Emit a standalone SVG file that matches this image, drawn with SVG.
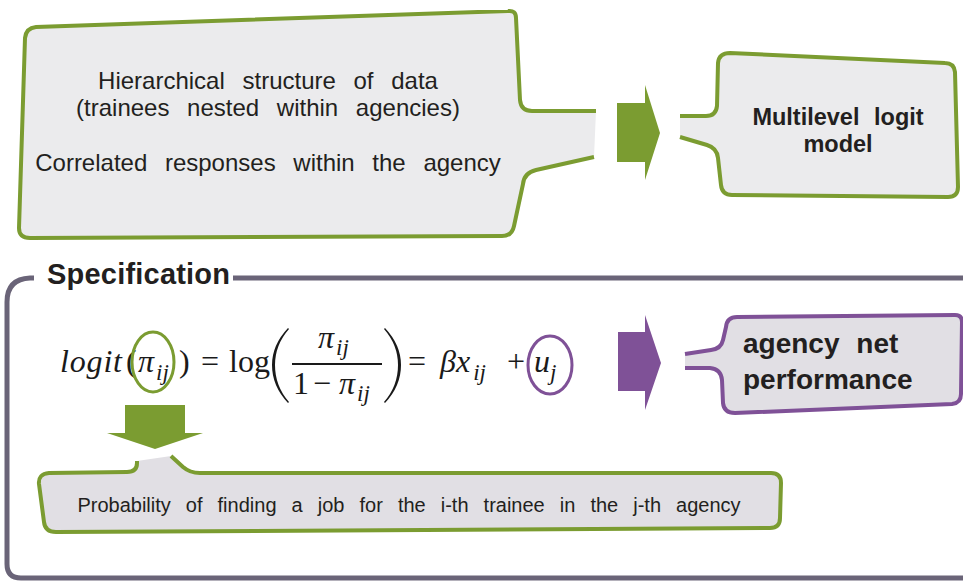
<svg xmlns="http://www.w3.org/2000/svg" width="963" height="583" viewBox="0 0 963 583">
  <defs>
    <style>
      .sans { font-family: "Liberation Sans", Arial, sans-serif; fill: #231f20; }
      .body { font-size: 24px; word-spacing: 11px; }
      .bold { font-weight: bold; }
      .math { font-family: "Liberation Serif", "DejaVu Serif", serif; font-size: 32px; fill: #1a1a1a; }
      .it { font-style: italic; }
      .sub { font-size: 23px; font-style: italic; }
      .green-line { fill: none; stroke: #7b9c31; stroke-width: 4; stroke-linejoin: round; stroke-linecap: butt; }
      .purple-line { fill: none; stroke: #7f5197; stroke-width: 4; stroke-linejoin: round; }
      .green-fill { fill: #7b9c31; }
      .purple-fill { fill: #7f5197; }
      .light { fill: #ebebed; }
      .light2 { fill: #e1dfe4; }
      .frame { fill: none; stroke: #6a6478; stroke-width: 5; }
    </style>
  </defs>

  <!-- Specification frame -->
  <g id="spec-frame">
    <path class="frame" d="M 34,278 L 30,278 Q 7,279 7,302 L 7,564 Q 7,578 21,578 L 963,578"/>
    <path class="frame" d="M 233,278 L 963,278"/>
    <text class="sans bold" x="47" y="284" font-size="29" textLength="183">Specification</text>
  </g>

  <!-- Data structure callout -->
  <g id="data-callout">
    <path class="light" d="M 594,157 L 536,170 Q 524,173 523,184 L 514,226 Q 512,236 502,236 L 30,238 Q 19,238 19,228 L 25,38 Q 26,28 36,27 L 508,11 Q 516,10 516,18 L 520,100 Q 521,111 532,111 L 596,111 Z"/>
    <path class="green-line" d="M 594,157 L 536,170 Q 524,173 523,184 L 514,226 Q 512,236 502,236 L 30,238 Q 19,238 19,228 L 25,38 Q 26,28 36,27 L 508,11 Q 516,10 516,18 L 520,100 Q 521,111 532,111 L 596,111"/>
    <text class="sans body" x="268" y="89" text-anchor="middle">Hierarchical structure of data</text>
    <text class="sans body" x="268" y="116" text-anchor="middle">(trainees nested within agencies)</text>
    <text class="sans body" x="268" y="171" text-anchor="middle">Correlated responses within the agency</text>
  </g>

  <!-- Model callout -->
  <g id="model-callout">
    <path class="light" d="M 680,137 L 707,145 Q 717,148 718,158 L 721,185 Q 722,195 732,195 L 948,197 Q 958,197 958,187 L 955,72 Q 954,63 945,63 L 730,53 Q 719,53 718,63 L 717,106 Q 716,116 706,116 L 680,116 Z"/>
    <path class="green-line" d="M 680,137 L 707,145 Q 717,148 718,158 L 721,185 Q 722,195 732,195 L 948,197 Q 958,197 958,187 L 955,72 Q 954,63 945,63 L 730,53 Q 719,53 718,63 L 717,106 Q 716,116 706,116 L 680,116"/>
    <text class="sans bold" x="838" y="125" font-size="23.5" text-anchor="middle" word-spacing="8">Multilevel logit</text>
    <text class="sans bold" x="838" y="152" font-size="23.5" text-anchor="middle">model</text>
  </g>

  <!-- Formula -->
  <g id="formula" class="math">
    <text class="it" x="60" y="372" textLength="62">logit</text>
    <text x="126" y="372">(</text>
    <text class="it" x="138" y="372">π<tspan class="sub" dx="2" dy="8">ij</tspan></text>
    <text x="179" y="372">)</text>
    <text x="201" y="372">=</text>
    <text x="229" y="372" textLength="41">log</text>
    <path fill="#1a1a1a" d="M 288,328 Q 272,345 272,365 Q 272,386 288,403 L 289,402 Q 275,386 275,365 Q 275,345 289,329 Z"/>
    <text class="it" x="318" y="348">π<tspan class="sub" dx="2" dy="7">ij</tspan></text>
    <rect x="292" y="363" width="90" height="2" fill="#1a1a1a"/>
    <text x="293" y="394">1</text>
    <text x="313" y="394">−</text>
    <text class="it" x="339" y="394">π<tspan class="sub" dx="2" dy="7">ij</tspan></text>
    <path fill="#1a1a1a" d="M 385,328 Q 401,345 401,365 Q 401,386 385,403 L 384,402 Q 398,386 398,365 Q 398,345 384,329 Z"/>
    <text x="408" y="372">=</text>
    <text class="it" x="440" y="372">βx<tspan class="sub" dx="3" dy="8">ij</tspan></text>
    <text x="507" y="372">+</text>
    <text class="it" x="534" y="372">u<tspan class="sub" dy="8">j</tspan></text>
    <ellipse cx="153" cy="362" rx="21" ry="30" fill="none" stroke="#7b9c31" stroke-width="3"/>
    <ellipse cx="550" cy="365" rx="22" ry="29" fill="none" stroke="#7f5197" stroke-width="3"/>
  </g>

  <!-- Agency performance callout -->
  <g id="agency-callout">
    <path class="light2" d="M 685,368 L 710,368 Q 721,369 722,380 L 723,403 Q 724,413 735,413 L 952,404 Q 961,403 961,394 L 962,322 Q 962,315 955,315 L 737,317 Q 727,317 726,327 L 723,340 Q 721,349 711,350 L 685,354 Z"/>
    <path class="purple-line" d="M 685,368 L 710,368 Q 721,369 722,380 L 723,403 Q 724,413 735,413 L 952,404 Q 961,403 961,394 L 962,322 Q 962,315 955,315 L 737,317 Q 727,317 726,327 L 723,340 Q 721,349 711,350 L 685,354"/>
    <text class="sans bold" x="743" y="353" font-size="28" word-spacing="9">agency net</text>
    <text class="sans bold" x="743" y="389" font-size="28">performance</text>
  </g>

  <!-- Probability callout -->
  <g id="probability-callout">
    <path class="light2" d="M 137,461 L 137,463 Q 137,472 127,472 L 49,473 Q 38,474 39,484 L 44,522 Q 45,532 56,532 L 770,528 Q 780,528 780,518 L 781,483 Q 781,473 771,473 L 200,473 Q 190,473 183,467 L 171,456 Z"/>
    <path class="green-line" d="M 137,461 L 137,463 Q 137,472 127,472 L 49,473 Q 38,474 39,484 L 44,522 Q 45,532 56,532 L 770,528 Q 780,528 780,518 L 781,483 Q 781,473 771,473 L 200,473 Q 190,473 183,467 L 171,456"/>
    <text class="sans" x="409" y="512" font-size="20" word-spacing="9.5" text-anchor="middle">Probability of finding a job for the i-th trainee in the j-th agency</text>
  </g>

  <!-- Connector arrows -->
  <g id="connectors">
    <polygon class="green-fill" points="617,103 645,103 645,85 660,133 645,180 645,162 617,162"/>
    <polygon class="purple-fill" points="618,332 645,332 645,315 661,363 645,410 645,391 618,391"/>
    <polygon class="green-fill" points="125,405 185,405 185,433 203,433 155,449 107,433 125,433"/>
  </g>
</svg>
